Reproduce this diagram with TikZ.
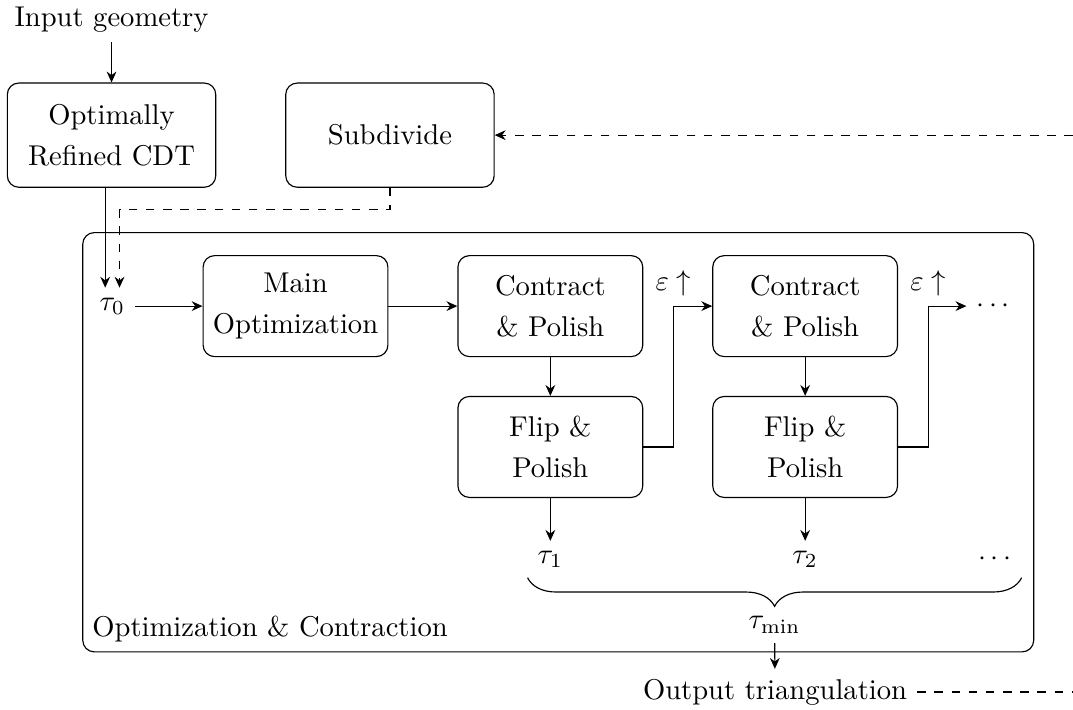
\documentclass[tikz,border=0pt]{standalone}
\usetikzlibrary{decorations.pathreplacing, arrows.meta}
\tikzset{
  stepbox/.style={draw, rounded corners, align=center, minimum width=2.27cm, minimum height=1.24cm, font=\fontsize{10}{14.5}\selectfont},
  topbox/.style={stepbox, minimum width=2.56cm, minimum height=1.28cm}
}
\begin{document}
\begin{tikzpicture}[>={Stealth[length=3.8pt, width=3.4pt]}]
\useasboundingbox (0,0) rectangle (13.18,-8.71);

\node (input) at (1.37,-0.24) {Input geometry};
\node [topbox] (cdt) at (1.37,-1.66) {Optimally\\Refined CDT};
\node [topbox] (subdiv) at (4.79,-1.66) {Subdivide};
\coordinate (backin) at (13.18,-1.66);

\node [draw, rounded corners, anchor=north west, minimum width=11.68cm, minimum height=5.15cm] (frame) at (1.01,-2.85) {};
\node [anchor=south west] (framelabel) at (frame.south west) {Optimization \& Contraction};

\node (t0) at (1.38,-3.76) {$\tau_0$};
\node [stepbox] (mainopt) at (3.63,-3.76) {Main\\Optimization};
\node [stepbox] (cp1) at (6.76,-3.76) {Contract\\\& Polish};
\node [stepbox] (fp1) at (6.76,-5.49) {Flip \&\\Polish};
\node [stepbox] (cp2) at (9.89,-3.76) {Contract\\\& Polish};
\node [stepbox] (fp2) at (9.89,-5.49) {Flip \&\\Polish};
\node (dots1) at (12.2,-3.76) {$\cdots$};

\node (t1) at (6.76,-6.87) {$\tau_1$};
\node (t2) at (9.89,-6.87) {$\tau_2$};
\node (dots2) at (12.22,-6.87) {$\cdots$};

\node (output) at (9.52,-8.5) {Output triangulation};
\coordinate (backout) at (13.18,-8.5);

\draw [->] (input) -- (cdt);
\draw [->] ([xshift=-2.5pt]t0.north |- cdt.south) -- ([xshift=-2.5pt]t0.north);
\draw [dashed, ->] (subdiv.south) -- ++(0,-0.27) -| ([xshift=2.5pt]t0.north);
\draw [dashed, ->] (backin) -- (subdiv.east);

\draw [->] (t0) -- (mainopt);
\draw [->] (mainopt) -- (cp1);
\draw [->] (cp1) -- (fp1);
\draw [->] (fp1.east) -| ([xshift=0.37cm]fp1.east |- cp2.west) node [above] (eps1) {$\varepsilon\uparrow$} -- (cp2.west);
\draw [->] (cp2) -- (fp2);
\draw [->] (fp2.east) -| ([xshift=0.37cm]fp2.east |- dots1.west) node [above] (eps2) {$\varepsilon\uparrow$} -- (dots1.west);

\draw [->] (fp1) -- (t1);
\draw [->] (fp2) -- (t2);
\draw [decorate, decoration={brace, mirror, amplitude=10pt}] (t1.south west) -- (t1.south west -| dots2.south east) node [midway, below=10pt] (tmin) {$\tau_{\min}$};
\draw [->] (tmin) -- (output);
\draw [dashed] (output.east) -- (backout);

\end{tikzpicture}
\end{document}
